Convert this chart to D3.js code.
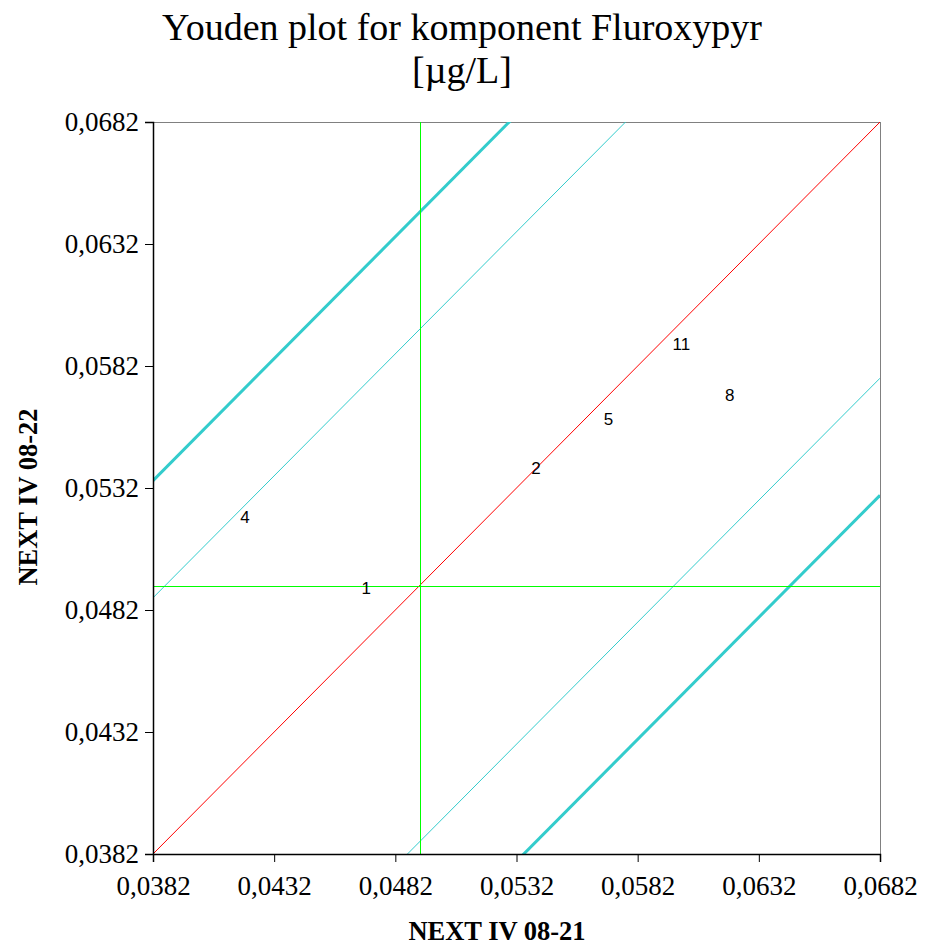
<!DOCTYPE html>
<html>
<head>
<meta charset="utf-8">
<script src="https://cdn.jsdelivr.net/npm/d3@7"></script>
<style>
  body { margin: 0; background: #fff; }
  svg { display: block; }
</style>
</head>
<body>
<svg id="chart" width="926" height="949"></svg>
<script>
// lab numbers and their results (sample 08-21 on x, 08-22 on y)
const labs = ["1", "2", "4", "5", "8", "11"];
const xValues = [0.0470, 0.0540, 0.0420, 0.0570, 0.0620, 0.0600];
const yValues = [0.0491, 0.0540, 0.0520, 0.0560, 0.0570, 0.0591];

const tickValues = [0.0382, 0.0432, 0.0482, 0.0532, 0.0582, 0.0632, 0.0682];
const medianX = 0.0492, medianY = 0.0492;
// offsets of the diagonal limit lines from y = x
const thinOffsets = [-0.0105, 0.0105];
const thickOffsets = [-0.0153, 0.0153];

var serif = "'Liberation Serif', 'Times New Roman', serif";

var svg = d3.select("#chart"),
  margin = {top: 122, left: 153, bottom: 95, right: 46},
  width = +svg.attr("width") - margin.left - margin.right,
  height = +svg.attr("height") - margin.top - margin.bottom;

var x = d3.scaleLinear().domain([0.0382, 0.0682]).range([margin.left, margin.left + width]);
var y = d3.scaleLinear().domain([0.0382, 0.0682]).range([margin.top + height, margin.top]);

var fmt = d => d3.format(".4f")(d).replace(".", ",");

svg.append("text")
  .attr("x", 462).attr("y", 40)
  .attr("text-anchor", "middle")
  .style("font-family", serif)
  .style("font-size", "38px")
  .text("Youden plot for komponent Fluroxypyr");
svg.append("text")
  .attr("x", 462).attr("y", 83)
  .attr("text-anchor", "middle")
  .style("font-family", serif)
  .style("font-size", "38px")
  .text("[µg/L]");

svg.append("defs").append("clipPath").attr("id", "clip")
  .append("rect")
  .attr("x", margin.left).attr("y", margin.top)
  .attr("width", width).attr("height", height);

// plot frame (grey top/right)
svg.append("rect")
  .attr("x", margin.left + 0.5).attr("y", margin.top + 0.5)
  .attr("width", width).attr("height", height)
  .attr("fill", "none").attr("stroke", "#808080").attr("stroke-width", 1)
  .attr("shape-rendering", "crispEdges");

var g = svg.append("g").attr("clip-path", "url(#clip)");
var dom = x.domain();

function diag(d, color, w) {
  g.append("line")
    .attr("x1", x(dom[0])).attr("y1", y(dom[0] + d))
    .attr("x2", x(dom[1])).attr("y2", y(dom[1] + d))
    .attr("stroke", color).attr("stroke-width", w);
}
thickOffsets.forEach(d => diag(d, "#33CCCC", 3));
thinOffsets.forEach(d => diag(d, "#33CCCC", 1));
diag(0, "#FF0000", 1);

g.append("line")
  .attr("x1", Math.round(x(medianX)) + 0.5).attr("x2", Math.round(x(medianX)) + 0.5)
  .attr("y1", margin.top).attr("y2", margin.top + height)
  .attr("stroke", "#00FF00").attr("stroke-width", 1)
  .attr("shape-rendering", "crispEdges");
g.append("line")
  .attr("x1", margin.left).attr("x2", margin.left + width)
  .attr("y1", Math.round(y(medianY)) + 0.5).attr("y2", Math.round(y(medianY)) + 0.5)
  .attr("stroke", "#00FF00").attr("stroke-width", 1)
  .attr("shape-rendering", "crispEdges");

svg.append("g").selectAll("text")
  .data(labs)
  .enter().append("text")
  .attr("x", (d, i) => x(xValues[i]))
  .attr("y", (d, i) => y(yValues[i]))
  .attr("text-anchor", "middle")
  .attr("dominant-baseline", "central")
  .style("font-family", "'Liberation Sans', Arial, sans-serif")
  .style("font-size", "17px")
  .text(d => d);

var xAxis = svg.append("g")
  .attr("transform", "translate(0," + (margin.top + height) + ")")
  .call(d3.axisBottom(x).tickValues(tickValues).tickFormat(fmt).tickSize(8).tickPadding(14));
var yAxis = svg.append("g")
  .attr("transform", "translate(" + margin.left + ",0)")
  .call(d3.axisLeft(y).tickValues(tickValues).tickFormat(fmt).tickSize(8).tickPadding(6));

[xAxis, yAxis].forEach(a => {
  a.select(".domain").attr("stroke", "#000").attr("stroke-width", 1.5);
  a.selectAll("text")
    .attr("fill", "#000")
    .style("font-family", serif)
    .style("font-size", "27px");
});

svg.append("text")
  .attr("x", 497).attr("y", 940)
  .attr("text-anchor", "middle")
  .style("font-family", serif)
  .style("font-weight", "bold")
  .style("font-size", "26.5px")
  .text("NEXT IV 08-21");
svg.append("text")
  .attr("transform", "translate(37,497) rotate(-90)")
  .attr("text-anchor", "middle")
  .style("font-family", serif)
  .style("font-weight", "bold")
  .style("font-size", "26.5px")
  .text("NEXT IV 08-22");
</script>
</body>
</html>
